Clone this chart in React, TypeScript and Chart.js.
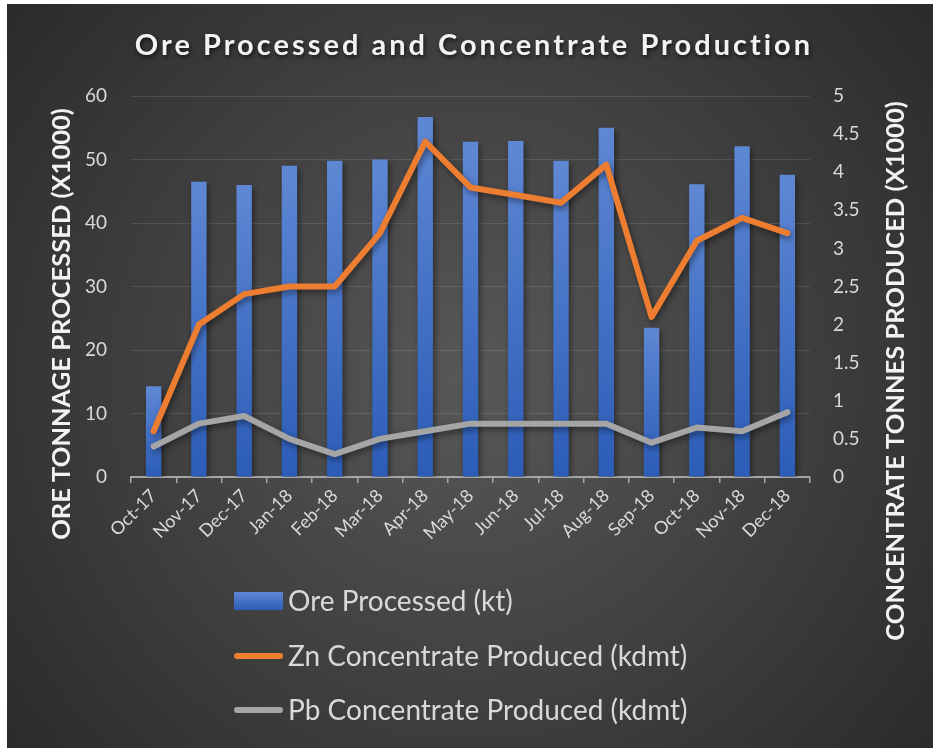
import React, { useEffect, useRef } from 'react';
import { Chart, registerables } from 'chart.js';

Chart.register(...registerables);

const chartTitle = 'Ore Processed and Concentrate Production';
const leftAxisTitle = 'ORE TONNAGE PROCESSED (X1000)';
const rightAxisTitle = 'CONCENTRATE TONNES PRODUCED (X1000)';

const categories = ['Oct-17', 'Nov-17', 'Dec-17', 'Jan-18', 'Feb-18', 'Mar-18', 'Apr-18', 'May-18', 'Jun-18', 'Jul-18', 'Aug-18', 'Sep-18', 'Oct-18', 'Nov-18', 'Dec-18'];
const seriesNames = ['Ore Processed (kt)', 'Zn Concentrate Produced (kdmt)', 'Pb Concentrate Produced (kdmt)'];
const oreProcessed = [14.3, 46.5, 46.0, 49.0, 49.8, 50.0, 56.7, 52.8, 52.9, 49.8, 55.0, 23.5, 46.1, 52.1, 47.6];
const znConcentrate = [0.6, 2.0, 2.4, 2.5, 2.5, 3.2, 4.4, 3.8, 3.7, 3.6, 4.1, 2.1, 3.1, 3.4, 3.2];
const pbConcentrate = [0.4, 0.7, 0.8, 0.5, 0.3, 0.5, 0.6, 0.7, 0.7, 0.7, 0.7, 0.45, 0.65, 0.6, 0.85];

const ORANGE = '#ED7D31';
const GRAY = '#A5A5A5';
const BAR_TOP = '#5f88d4';
const BAR_BOTTOM = '#2b5cb7';
const TEXT = '#d9d9d9';
const FONT = 'Lato';

const bgPlugin = {
  id: 'bgPlugin',
  beforeDraw(chart: any) {
    const ctx = chart.ctx;
    ctx.save();
    ctx.fillStyle = '#ffffff';
    ctx.fillRect(0, 0, chart.width, chart.height);
    const g = ctx.createRadialGradient(470, 380, 0, 470, 380, 640);
    g.addColorStop(0, '#585858');
    g.addColorStop(1, '#272727');
    ctx.fillStyle = g;
    ctx.fillRect(7, 4, chart.width - 7, chart.height - 4);
    ctx.restore();
  },
};

const shadowPlugin = {
  id: 'shadowPlugin',
  beforeDatasetDraw(chart: any) {
    const ctx = chart.ctx;
    ctx.save();
    ctx.shadowColor = 'rgba(0,0,0,0.45)';
    ctx.shadowBlur = 6;
    ctx.shadowOffsetX = 2;
    ctx.shadowOffsetY = 3;
  },
  afterDatasetDraw(chart: any) {
    chart.ctx.restore();
  },
};

const textPlugin = {
  id: 'textPlugin',
  afterDraw(chart: any) {
    const ctx = chart.ctx;
    // Title
    ctx.save();
    ctx.font = `bold 29px ${FONT}`;
    (ctx as any).letterSpacing = '3px';
    ctx.fillStyle = '#f2f2f2';
    ctx.textAlign = 'center';
    ctx.textBaseline = 'alphabetic';
    ctx.shadowColor = 'rgba(0,0,0,0.7)';
    ctx.shadowBlur = 4;
    ctx.shadowOffsetX = 1;
    ctx.shadowOffsetY = 2;
    ctx.fillText(chartTitle, 474, 55);
    ctx.restore();

    // Axis titles
    ctx.save();
    ctx.font = `bold 25.5px ${FONT}`;
    ctx.fillStyle = '#f2f2f2';
    ctx.textAlign = 'center';
    ctx.textBaseline = 'middle';
    ctx.translate(62, 324);
    ctx.rotate(-Math.PI / 2);
    ctx.fillText(leftAxisTitle, 0, 0);
    ctx.restore();

    ctx.save();
    ctx.font = `bold 25.5px ${FONT}`;
    ctx.fillStyle = '#f2f2f2';
    ctx.textAlign = 'center';
    ctx.textBaseline = 'middle';
    ctx.translate(896, 371);
    ctx.rotate(-Math.PI / 2);
    ctx.fillText(rightAxisTitle, 0, 0);
    ctx.restore();

    // Legend
    const rows = [601, 656, 710];
    const x0 = 234;
    ctx.save();
    ctx.font = `28px ${FONT}`;
    ctx.textAlign = 'left';
    ctx.textBaseline = 'middle';
    const g = ctx.createLinearGradient(0, rows[0] - 9, 0, rows[0] + 9);
    g.addColorStop(0, BAR_TOP);
    g.addColorStop(1, BAR_BOTTOM);
    ctx.fillStyle = g;
    ctx.fillRect(x0, rows[0] - 9, 49, 18);
    ctx.lineCap = 'round';
    ctx.lineWidth = 6;
    ctx.strokeStyle = ORANGE;
    ctx.beginPath();
    ctx.moveTo(x0 + 3, rows[1]);
    ctx.lineTo(x0 + 46, rows[1]);
    ctx.stroke();
    ctx.strokeStyle = GRAY;
    ctx.beginPath();
    ctx.moveTo(x0 + 3, rows[2]);
    ctx.lineTo(x0 + 46, rows[2]);
    ctx.stroke();
    ctx.fillStyle = TEXT;
    seriesNames.forEach((n, i) => ctx.fillText(n, 288, rows[i] + 1));
    ctx.restore();
  },
};

export default function App() {
  const ref = useRef<HTMLCanvasElement>(null);
  useEffect(() => {
    if (!ref.current) return;
    const chart = new Chart(ref.current, {
      type: 'bar',
      data: {
        labels: categories,
        datasets: [
          {
            type: 'line',
            label: seriesNames[1],
            data: znConcentrate,
            yAxisID: 'y1',
            borderColor: ORANGE,
            backgroundColor: ORANGE,
            borderWidth: 6,
            pointRadius: 0,
            tension: 0,
            borderJoinStyle: 'round',
            borderCapStyle: 'round',
            order: 0,
          } as any,
          {
            type: 'line',
            label: seriesNames[2],
            data: pbConcentrate,
            yAxisID: 'y1',
            borderColor: GRAY,
            backgroundColor: GRAY,
            borderWidth: 6,
            pointRadius: 0,
            tension: 0,
            borderJoinStyle: 'round',
            borderCapStyle: 'round',
            order: 1,
          } as any,
          {
            type: 'bar',
            label: seriesNames[0],
            data: oreProcessed,
            yAxisID: 'y',
            barPercentage: 0.34,
            categoryPercentage: 1,
            backgroundColor: (c: any) => {
              const chart = c.chart;
              const ys = chart.scales && chart.scales.y;
              if (!ys || c.type !== 'data' || typeof c.raw !== 'number') return '#4472c4';
              const top = ys.getPixelForValue(c.raw);
              const base = ys.getPixelForValue(0);
              if (!isFinite(top) || !isFinite(base) || top === base) return '#4472c4';
              const g = chart.ctx.createLinearGradient(0, top, 0, base);
              g.addColorStop(0, BAR_TOP);
              g.addColorStop(1, BAR_BOTTOM);
              return g;
            },
            order: 2,
          } as any,
        ],
      },
      options: {
        animation: false,
        responsive: false,
        devicePixelRatio: 1,
        layout: { padding: { top: 96, left: 0, right: 0, bottom: 0 } },
        plugins: {
          legend: { display: false },
          title: { display: false },
          tooltip: { enabled: false },
        },
        scales: {
          x: {
            offset: true,
            grid: {
              display: true,
              offset: true,
              drawOnChartArea: false,
              drawTicks: true,
              tickLength: 6,
              color: '#a6a6a6',
              lineWidth: 1.5,
            },
            border: { display: true, color: '#a6a6a6', width: 2 },
            ticks: {
              color: TEXT,
              font: { family: FONT, size: 18 },
              minRotation: 45,
              maxRotation: 45,
              autoSkip: false,
              padding: 2,
            },
            afterFit: (s: any) => { s.height = 271; },
          },
          y: {
            position: 'left',
            min: 0,
            max: 60,
            ticks: { stepSize: 10, color: TEXT, font: { family: FONT, size: 19 }, padding: 24 },
            grid: { color: 'rgba(255,255,255,0.11)', lineWidth: 1, drawTicks: false },
            border: { display: false },
            afterFit: (s: any) => { s.width = 131; },
          },
          y1: {
            position: 'right',
            min: 0,
            max: 5,
            ticks: {
              stepSize: 0.5,
              color: TEXT,
              font: { family: FONT, size: 19 },
              padding: 23,
              callback: (v: any) => String(Number(v)),
            },
            grid: { display: false, drawTicks: false },
            border: { display: false },
            afterFit: (s: any) => { s.width = 123; },
          },
        },
      } as any,
      plugins: [bgPlugin, shadowPlugin, textPlugin],
    });
    return () => chart.destroy();
  }, []);
  return (
    <div style={{ position: 'fixed', left: 0, top: 0, width: 933, height: 748 }}>
      <canvas ref={ref} width={933} height={748} />
    </div>
  );
}
